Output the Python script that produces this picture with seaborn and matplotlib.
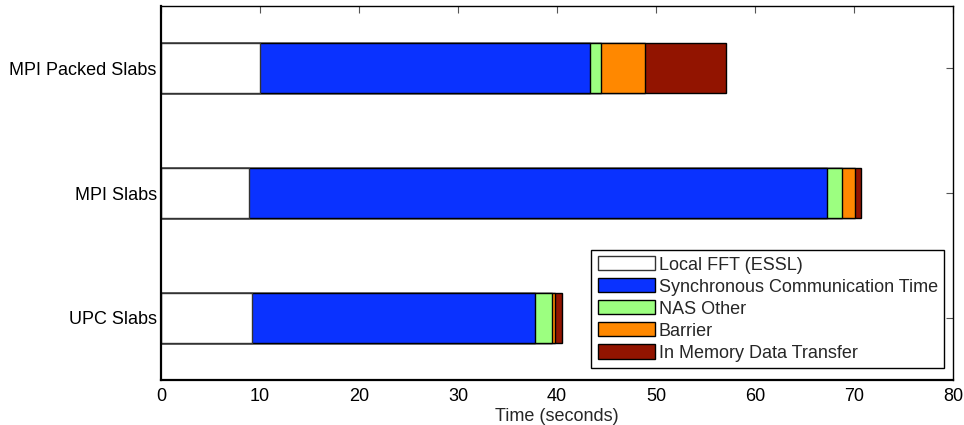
import matplotlib
matplotlib.use("Agg")
import matplotlib.pyplot as plt
import seaborn as sns
import pandas as pd
import numpy as np

categories = ["MPI Packed Slabs", "MPI Slabs", "UPC Slabs"]
series = ["Local FFT (ESSL)", "Synchronous Communication Time", "NAS Other",
          "Barrier", "In Memory Data Transfer"]
local_fft = [10.05, 8.93, 9.15]
sync_comm = [33.30, 58.37, 28.59]
nas_other = [1.08, 1.52, 1.73]
barrier = [4.45, 1.25, 0.37]
mem_transfer = [8.18, 0.61, 0.64]
colors = ["#FFFFFF", "#0A32FF", "#9CFF80", "#FF8800", "#921400"]
xticks = [0, 10, 20, 30, 40, 50, 60, 70, 80]

sns.set_theme(style="white")
plt.rcParams["font.family"] = ["Liberation Sans", "DejaVu Sans"]

df = pd.DataFrame({"cat": categories, series[0]: local_fft, series[1]: sync_comm,
                   series[2]: nas_other, series[3]: barrier, series[4]: mem_transfer})
cum = df[series].cumsum(axis=1)

fig = plt.figure(figsize=(9.64, 4.25), dpi=100)
ax = fig.add_axes([161/964, 1-380/425, (953-161)/964, (380-6)/425])

for i in range(len(series) - 1, -1, -1):
    name = series[i]
    sns.barplot(x=cum[name], y=df["cat"], orient="h", color=colors[i],
                edgecolor="#333333" if i == 0 else "black", linewidth=1.0,
                width=0.4, saturation=1, ax=ax, label=name)

h, l = ax.get_legend_handles_labels()
order = [l.index(s) for s in series]
leg = ax.legend([h[k] for k in order], [l[k] for k in order], loc="lower right",
                bbox_to_anchor=((944-161)/(953-161), (380-368)/(380-6)),
                bbox_transform=ax.transAxes,
                fontsize=13, frameon=True,
                fancybox=False, edgecolor="black", framealpha=1,
                handlelength=3.15, handleheight=0.83, labelspacing=0.26,
                borderpad=0.35, handletextpad=0.22, borderaxespad=0)
leg.get_frame().set_linewidth(1.0)

ax.set_xlim(0, 80)
ax.set_ylim(2.5, -0.5)
ax.set_xticks(xticks)
ax.set_xlabel("Time (seconds)", fontsize=13, labelpad=2)
ax.set_ylabel("")
ax.tick_params(axis="both", direction="in", top=True, right=True, length=5,
               width=0.8, color="#555555", labelsize=13, labelcolor="black")
ax.tick_params(axis="x", pad=6)
ax.tick_params(axis="y", pad=3)
for s in ax.spines.values():
    s.set_visible(True)
    s.set_color("black")
    s.set_linewidth(1.0)
ax.spines["left"].set_linewidth(1.6)
ax.spines["bottom"].set_linewidth(1.6)

fig.savefig("out.png", dpi=100)
